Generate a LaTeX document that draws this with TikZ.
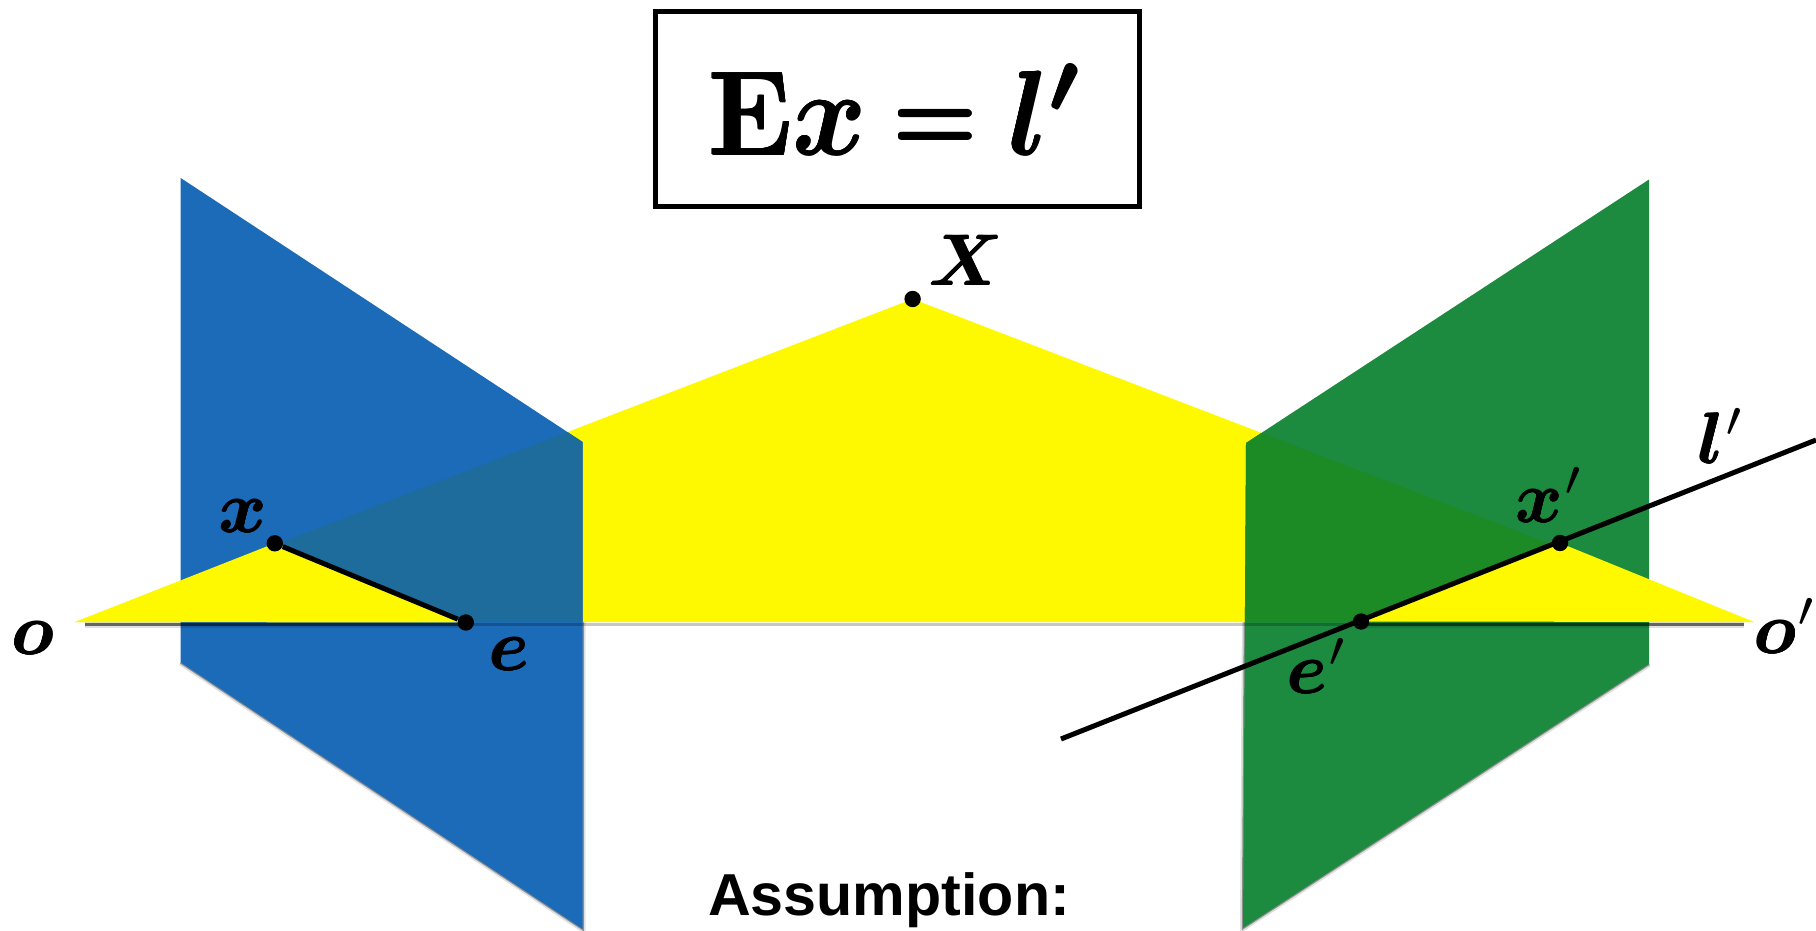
\documentclass[tikz,border=0pt]{standalone}
\usepackage{graphicx}
\usepackage{fontspec}
\newfontfamily\headfont{Liberation Sans}
\definecolor{planeblue}{HTML}{1C6BB8}
\definecolor{blueover}{HTML}{1D6C9B}
\definecolor{planegreen}{HTML}{1C8B40}
\definecolor{greenover}{HTML}{1C8A25}
\definecolor{epiyellow}{HTML}{FFF900}
% overprinted copies: the reference's letters are heavier than cmmib
\newcommand{\hv}[2]{\leavevmode\rlap{\kern#1\relax #2}\rlap{\kern-#1\relax #2}\rlap{\raisebox{#1}{#2}}\rlap{\raisebox{-#1}{#2}}#2}
\newcommand{\lbl}[1]{\scalebox{3.6}{\hv{0.05pt}{\boldmath$#1$}}}
\newcommand{\lblp}[1]{\scalebox{3.6}{\hv{0.05pt}{\boldmath$#1$}\kern0.2pt\unboldmath$\vphantom{#1}^{\prime}$}}
\tikzset{
  softa/.style={draw=black,draw opacity=.12,line width=3pt,line join=miter},
  softb/.style={draw=black,draw opacity=.36,line width=1.2pt,line join=miter},
  softc/.style={draw=black,draw opacity=.22,line width=1.4pt},
  softd/.style={draw=black,draw opacity=.55,line width=1.2pt},
  ptdot/.style={circle,fill=black,inner sep=0pt,minimum size=8.2pt},
  seg/.style={draw=black,line width=2.5pt},
  lab/.style={inner sep=0pt,anchor=base},
  eqbox/.style={draw=black,line width=2.6pt,inner sep=0pt,outer sep=0pt,anchor=north west,
    minimum width=241.8pt,minimum height=97.3pt},
}
\begin{document}
\begin{tikzpicture}[x=0.5pt,y=-0.5pt]
\useasboundingbox[fill=white] (0,0) rectangle (1816,931);
% corner points
\coordinate (otip) at (75,622);
\coordinate (otipr) at (1754,622);
\coordinate (bTL) at (180.7,178);
\coordinate (bTR) at (582.6,442);
\coordinate (bBR) at (582.6,929);
\coordinate (bBL) at (180.7,662.5);
\coordinate (gTL) at (1246,443);
\coordinate (gTR) at (1649,179.5);
\coordinate (gBR) at (1649,664);
\coordinate (gBL) at (1243,928);
\coordinate (Xpt) at (912.6,299);
\coordinate (xpt) at (274.8,543.3);
\coordinate (ept) at (465.8,622.5);
\coordinate (xppt) at (1560,543);
\coordinate (eppt) at (1361,621.5);
\coordinate (lstart) at (1061,739);
\coordinate (lend) at (1816,440);
\coordinate (shL) at (85,624.5);
\coordinate (shR) at (1744,624.5);
\coordinate (shE) at (466,624.5);
\coordinate (shEp) at (1361,624.5);
% plane shadows
\path[softa,shift={(1,2)}] (bBL) -- (bBR) -- (bTR);
\path[softb,shift={(1,1)}] (bBL) -- (bBR) -- (bTR);
\path[softa,shift={(-1,2)}] (gBR) -- (gBL) -- (gTL);
\path[softb,shift={(-1,1)}] (gBR) -- (gBL) -- (gTL);
% yellow plane
\fill[epiyellow] (otip) -- (Xpt) -- (otipr) -- cycle;
% image planes
\fill[planeblue] (bTL) -- (bTR) -- (bBR) -- (bBL) -- cycle;
\fill[planegreen] (gTL) -- (gTR) -- (gBR) -- (gBL) -- cycle;
\begin{scope}
  \clip (bTL) -- (bTR) -- (bBR) -- (bBL) -- cycle;
  \fill[blueover] (otip) -- (Xpt) -- (otipr) -- cycle;
\end{scope}
\begin{scope}
  \clip (gTL) -- (gTR) -- (gBR) -- (gBL) -- cycle;
  \fill[greenover] (otip) -- (Xpt) -- (otipr) -- cycle;
\end{scope}
% shadow of the yellow plane, strong under the front parts
\path[softc] (shE) -- (shEp);
\path[softa] (shL) -- (shE);
\path[softd] (shL) -- (shE);
\path[softa] (shEp) -- (shR);
\path[softd] (shEp) -- (shR);
% yellow in front of the planes
\fill[epiyellow] (otip) -- (xpt) -- (ept) -- cycle;
\fill[epiyellow] (eppt) -- (xppt) -- (otipr) -- cycle;
% points
\node[ptdot] (X) at (Xpt) {};
\node[ptdot] (x) at (xpt) {};
\node[ptdot] (e) at (ept) {};
\node[ptdot] (xp) at (xppt) {};
\node[ptdot] (ep) at (eppt) {};
% lines
\draw[seg] (x) -- (e);
\draw[seg] (lstart) -- (lend);
% labels
\node[lab] (lx) at (243,532) {\lbl{x}};
\node[lab] (lo) at (33,654) {\lbl{o}};
\node[lab] (le) at (509,670) {\lbl{e}};
\node[lab] (lxp) at (1550,522) {\lblp{x}};
\node[lab] (lep) at (1318,693) {\lblp{e}};
\node[lab] (lop) at (1786,653) {\lblp{o}};
\node[lab] (llp) at (1722,463) {\lblp{l}};
\node[lab] (lX) at (966,285) {\lbl{X}};
% equation
\node[eqbox] (box) at (655.5,11.5) {};
\node[lab] (eq) at (896.5,155) {\scalebox{5.6}[6.0]{\hv{0.07pt}{\boldmath$\mathbf{E}x$\kern2.35pt\raisebox{0.375pt}{\scalebox{0.85}{$=$}}\kern2.75pt$l'$}}};
% assumption
\node[lab,font=\headfont\bfseries\fontsize{29.6}{34}\selectfont] (as) at (889,915) {Assumption:};
\end{tikzpicture}
\end{document}
